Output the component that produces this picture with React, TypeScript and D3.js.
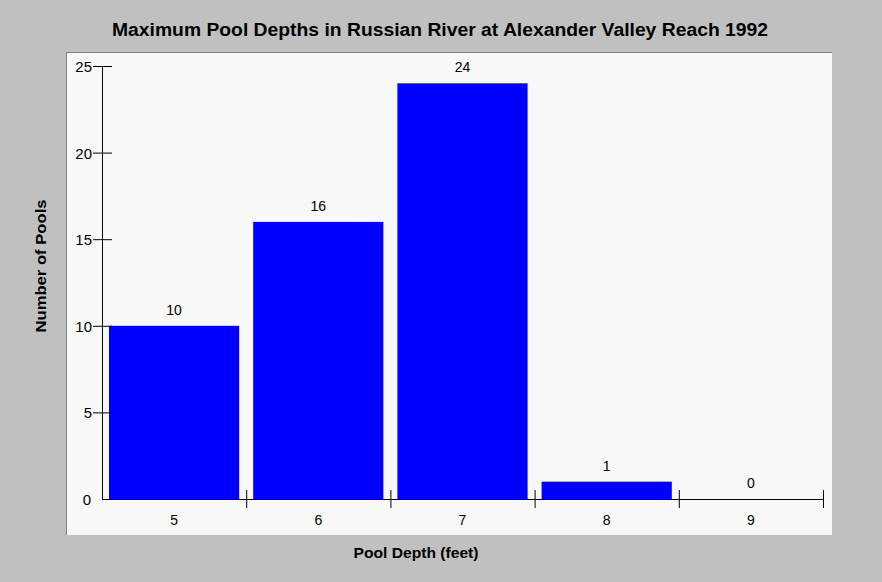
import * as d3 from 'd3';

const categories = ['5', '6', '7', '8', '9'];
const counts = [10, 16, 24, 1, 0];
const yTicks = [0, 5, 10, 15, 20, 25];

const App = () => {
  const width = 882;
  const height = 582;
  const left = 102;
  const right = 823;
  const top = 66;
  const bottom = 499;

  const x = d3.scaleBand().domain(categories).range([left, right]).paddingInner(0).paddingOuter(0);
  const y = d3.scaleLinear().domain([0, 25]).range([bottom, top]);
  const pad = 7;
  const font = 'Arial, "Liberation Sans", sans-serif';

  return (
    <svg width={width} height={height} style={{ position: 'absolute', left: 0, top: 0, fontFamily: font }}>
      <rect x={0} y={0} width={width} height={height} fill="#c0c0c0" />
      <rect x={66} y={52} width={766} height={483} fill="#f8f8f8" />
      <line x1={66} y1={52.5} x2={832} y2={52.5} stroke="#808080" />
      <line x1={66.5} y1={52} x2={66.5} y2={535} stroke="#808080" />

      <text
        x={440}
        y={36}
        textAnchor="middle"
        fontSize={18}
        fontWeight="bold"
        fill="#000"
        textLength={656}
        lengthAdjust="spacingAndGlyphs"
      >
        Maximum Pool Depths in Russian River at Alexander Valley Reach 1992
      </text>

      {categories.map((c, i) => (
        <g key={c}>
          {counts[i] > 0 && (
            <rect
              x={(x(c) as number) + pad}
              y={y(counts[i])}
              width={x.bandwidth() - 2 * pad}
              height={bottom - y(counts[i])}
              fill="#0000ff"
            />
          )}
          <text
            x={(x(c) as number) + x.bandwidth() / 2}
            y={y(counts[i]) - 11}
            textAnchor="middle"
            fontSize={14}
            fill="#000"
          >
            {counts[i]}
          </text>
          <text
            x={(x(c) as number) + x.bandwidth() / 2}
            y={525}
            textAnchor="middle"
            fontSize={14}
            fill="#000"
          >
            {c}
          </text>
          <line
            x1={(x(c) as number) + x.bandwidth() + 0.5}
            x2={(x(c) as number) + x.bandwidth() + 0.5}
            y1={490}
            y2={508}
            stroke="#000"
          />
        </g>
      ))}

      {yTicks.map((t) => (
        <g key={t}>
          {t > 0 && <line x1={93} x2={112} y1={y(t) + 0.5} y2={y(t) + 0.5} stroke="#000" />}
          <text x={t > 0 ? 92 : 91} y={y(t) + 6} textAnchor="end" fontSize={15} fill="#000">
            {t}
          </text>
        </g>
      ))}

      <line x1={left + 0.5} x2={left + 0.5} y1={top} y2={bottom + 0.5} stroke="#000" />
      <line x1={left} x2={right + 0.5} y1={bottom + 0.5} y2={bottom + 0.5} stroke="#000" />

      <text
        x={416}
        y={558}
        textAnchor="middle"
        fontSize={15}
        fontWeight="bold"
        fill="#000"
        textLength={125}
        lengthAdjust="spacingAndGlyphs"
      >
        Pool Depth (feet)
      </text>
      <text
        transform={`translate(46, 266) rotate(-90)`}
        textAnchor="middle"
        fontSize={15}
        fontWeight="bold"
        fill="#000"
        textLength={133}
        lengthAdjust="spacingAndGlyphs"
      >
        Number of Pools
      </text>
    </svg>
  );
};

export default App;
